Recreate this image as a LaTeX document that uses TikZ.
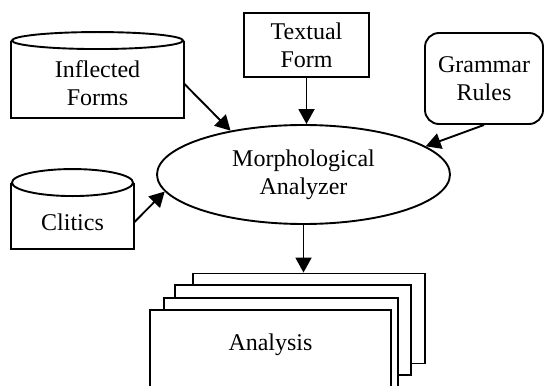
\documentclass[tikz,border=0pt]{standalone}
\usepackage{fontspec}
\setmainfont{Liberation Serif}
\usepackage{tikz}
\usetikzlibrary{shapes,arrows,positioning,calc,arrows.meta}

\tikzset{
  every node/.style={font=\fontsize{24}{28}\selectfont,align=center,inner sep=0pt},
  store/.style={minimum width=#1},
  box/.style={draw,minimum width=#1},
  page/.style={draw,fill=white,minimum height=90pt,minimum width=#1},
  flow/.style={-{Triangle[length=15pt,width=16pt]}}
}

\begin{document}
\begin{tikzpicture}[x=1pt,y=-1pt,line width=1.9pt]
    \useasboundingbox (0,0) rectangle (545,385);
    \clip (0,0) rectangle (545,385);

    % sources
    \node[store=171pt,minimum height=67pt] (inflected) at (97.5,83.5) {Inflected\\Forms};
    \draw ($(inflected.north west)+(0,-8.5)$) -- (inflected.south west) -- (inflected.south east) -- ($(inflected.north east)+(0,-8.5)$);
    \draw[fill=white] ($(inflected.north)+(0,-8.5)$) ellipse [x radius=85.5pt,y radius=8.5pt];

    \node[store=121pt,minimum height=51pt] (clitics) at (72.5,222.5) {Clitics};
    \draw ($(clitics.north west)+(0,-13.5)$) -- (clitics.south west) -- (clitics.south east) -- ($(clitics.north east)+(0,-13.5)$);
    \draw[fill=white] ($(clitics.north)+(0,-13.5)$) ellipse [x radius=60.5pt,y radius=13.5pt];

    \node[box=125pt,minimum height=64pt] (textual) at (306.5,45) {Textual\\Form};
    \node[box=118pt,minimum height=91pt,rounded corners=14pt] (grammar) at (484,78.5) {Grammar\\Rules};

    \node[draw,ellipse,minimum width=293pt,minimum height=99pt] (morph) at (303.5,174.5) {Morphological\\Analyzer};

    % output pages
    \node[page=232pt] (pageD) at (309,318.5) {};
    \node[page=236pt] (pageC) at (293,330) {};
    \node[page=234pt] (pageB) at (281,343) {};
    \node[page=241pt] (pageA) at (270.5,355) {};
    \node (analysis) at (270.5,345) {Analysis};

    \draw[flow] (inflected.east) -- (morph.149);
    \draw[flow] (textual.south) -- (textual.south |- morph.north);
    \draw[flow] (grammar.south) -- (morph.13);
    \draw[flow] (clitics.east) -- (morph.187);
    \draw[flow] (morph.south) -- (morph.south |- pageD.north);
\end{tikzpicture}
\end{document}
